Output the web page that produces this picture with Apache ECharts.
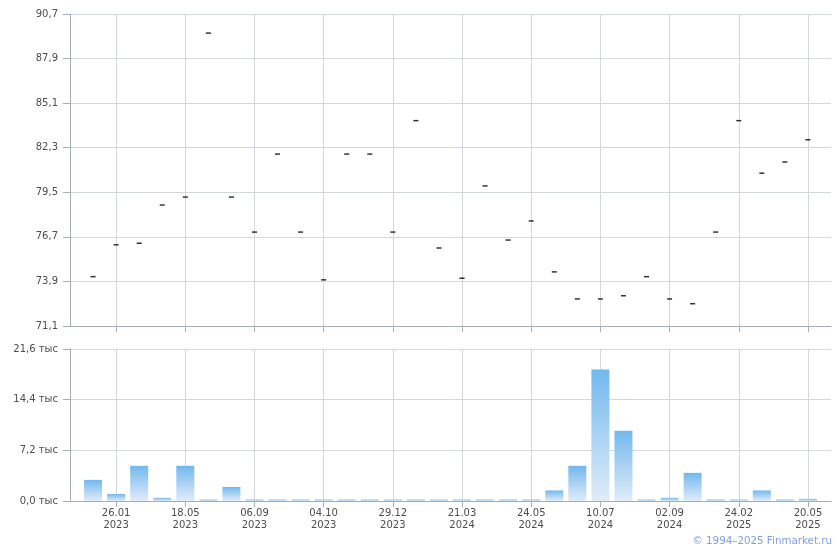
<!DOCTYPE html>
<html>
<head>
<meta charset="utf-8">
<script src="https://cdn.jsdelivr.net/npm/echarts@6/dist/echarts.min.js"></script>
<style>html,body{margin:0;padding:0;background:#fff}#c{width:840px;height:550px}</style>
</head>
<body>
<div id="c"></div>
<script>
// x categories (index 0 and last are empty padding slots)
var tickLabels = ['', '', '26.01\n2023', '', '', '18.05\n2023', '', '', '06.09\n2023', '', '', '04.10\n2023', '', '',
  '29.12\n2023', '', '', '21.03\n2024', '', '', '24.05\n2024', '', '', '10.07\n2024', '', '', '02.09\n2024', '', '',
  '24.02\n2025', '', '', '20.05\n2025', ''];
var prices = [74.2, 76.2, 76.3, 78.7, 79.2, 89.5, 79.2, 77.0, 81.9, 77.0, 74.0, 81.9, 81.9, 77.0, 84.0, 76.0,
  74.1, 79.9, 76.5, 77.7, 74.5, 72.8, 72.8, 73.0, 74.2, 72.8, 72.5, 77.0, 84.0, 80.7, 81.4, 82.8];
var volumes = [3000, 1000, 5000, 450, 5000, 200, 2000, 200, 200, 200, 200, 200, 200, 200, 200, 200,
  200, 200, 200, 200, 1500, 5000, 18700, 10000, 200, 450, 4000, 200, 200, 1500, 200, 300];
var priceTicks = {min: 71.1, max: 90.7, step: 2.8};
var volTicks = {min: 0, max: 21600, step: 7200};

var priceData = [null].concat(prices, [null]);
var volData = ['-'].concat(volumes, ['-']);

var gridColor = '#d3d8dd';
var axisColor = '#a6adb6';
var labelColor = '#4d4d4d';
var font = '"DejaVu Sans", Verdana, sans-serif';
var showIdx = function (i) { return i % 3 === 2; };

var chart = echarts.init(document.getElementById('c'), null, {renderer: 'canvas'});
chart.setOption({
  animation: false,
  backgroundColor: '#fff',
  grid: [
    {left: 70, right: 9, top: 14, height: 312},
    {left: 70, right: 9, top: 349, height: 152}
  ],
  xAxis: [
    {
      type: 'category', gridIndex: 0, data: tickLabels, boundaryGap: false,
      axisLine: {lineStyle: {color: axisColor}},
      axisTick: {show: true, interval: showIdx, length: 6, lineStyle: {color: axisColor}},
      axisLabel: {show: false},
      splitLine: {show: true, interval: showIdx, lineStyle: {color: gridColor}}
    },
    {
      type: 'category', gridIndex: 1, data: tickLabels, boundaryGap: false,
      axisLine: {lineStyle: {color: axisColor}},
      axisTick: {show: true, interval: showIdx, length: 6, lineStyle: {color: axisColor}},
      axisLabel: {show: true, interval: showIdx, color: labelColor, fontFamily: font, fontSize: 10, lineHeight: 12, margin: 6},
      splitLine: {show: true, interval: showIdx, lineStyle: {color: gridColor}}
    }
  ],
  yAxis: [
    {
      type: 'value', gridIndex: 0, min: priceTicks.min, max: priceTicks.max, interval: priceTicks.step,
      axisLine: {show: true, lineStyle: {color: axisColor}},
      axisTick: {show: true, length: 7, lineStyle: {color: axisColor}},
      axisLabel: {color: labelColor, fontFamily: font, fontSize: 10, margin: 12,
        formatter: function (v) { return v.toFixed(1).replace('.', ','); }},
      splitLine: {lineStyle: {color: gridColor}}
    },
    {
      type: 'value', gridIndex: 1, min: volTicks.min, max: volTicks.max, interval: volTicks.step,
      axisLine: {show: true, lineStyle: {color: axisColor}},
      axisTick: {show: true, length: 7, lineStyle: {color: axisColor}},
      axisLabel: {color: labelColor, fontFamily: font, fontSize: 10, margin: 12,
        formatter: function (v) { return (v / 1000).toFixed(1).replace('.', ',') + ' тыс'; }},
      splitLine: {lineStyle: {color: gridColor}}
    }
  ],
  series: [
    {
      type: 'scatter', xAxisIndex: 0, yAxisIndex: 0, data: priceData,
      symbol: 'rect', symbolSize: [5, 1.5],
      itemStyle: {color: '#000'}
    },
    {
      type: 'bar', xAxisIndex: 1, yAxisIndex: 1, data: volData, barWidth: 18,
      itemStyle: {
        color: new echarts.graphic.LinearGradient(0, 0, 0, 1, [
          {offset: 0, color: '#72b8ef'},
          {offset: 1, color: '#e1ecf8'}
        ])
      }
    }
  ],
  graphic: [{
    type: 'text', right: 8, top: 536,
    style: {text: '© 1994–2025 Finmarket.ru', fill: '#7d9fe3', font: '10.3px ' + font}
  }]
});
</script>
</body>
</html>
